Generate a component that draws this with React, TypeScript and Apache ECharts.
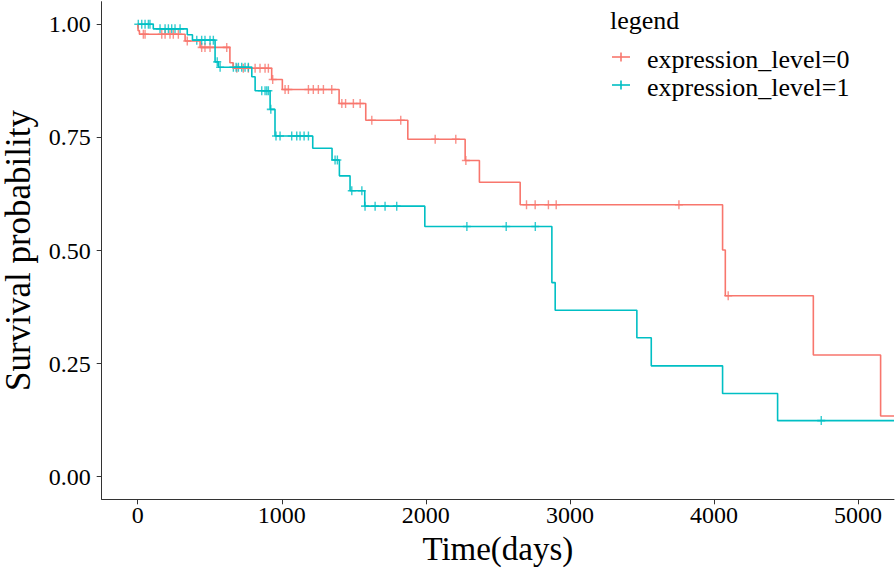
import React, { useEffect, useRef } from "react";
import * as echarts from "echarts";

// ---- Data ----
const xTickValues = [0, 1000, 2000, 3000, 4000, 5000];
const yTickValues = [0, 0.25, 0.5, 0.75, 1.0];
const followUpEnd = 5250;

const seriesNames = ["expression_level=0", "expression_level=1"];
const seriesColors = ["#F8766D", "#00BFC4"];

// expression_level=0 : step times and survival after each step
const level0StepTimes = [0, 3, 12, 329, 433, 640, 662, 930, 1004, 1398, 1583, 1875, 2273, 2372, 2655, 4060, 4079, 4690, 5157];
const level0StepSurv = [1.0, 0.986, 0.978, 0.963, 0.949, 0.915, 0.903, 0.878, 0.856, 0.825, 0.788, 0.746, 0.699, 0.651, 0.601, 0.501, 0.4, 0.269, 0.134];
const level0CensorTimes = [39, 51, 167, 190, 224, 247, 282, 344, 444, 467, 502, 618, 688, 733, 768, 815, 849, 884, 907, 937, 1023, 1046, 1185, 1219, 1254, 1289, 1347, 1417, 1443, 1497, 1544, 1625, 1826, 2065, 2208, 2278, 2699, 2759, 2851, 2905, 3757, 4099];

// expression_level=1
const level1StepTimes = [0, 108, 344, 380, 537, 560, 792, 815, 919, 953, 1215, 1349, 1400, 1474, 1576, 1993, 2875, 2898, 3465, 3565, 4060, 4442];
const level1StepSurv = [1.0, 0.99, 0.977, 0.965, 0.917, 0.905, 0.884, 0.853, 0.812, 0.753, 0.726, 0.7, 0.665, 0.632, 0.598, 0.553, 0.429, 0.368, 0.307, 0.245, 0.184, 0.124];
const level1CensorTimes = [4, 28, 51, 74, 85, 155, 190, 213, 236, 259, 294, 410, 444, 467, 502, 525, 552, 572, 664, 683, 699, 722, 745, 768, 861, 884, 896, 907, 924, 960, 988, 1069, 1104, 1127, 1155, 1185, 1370, 1386, 1486, 1556, 1578, 1648, 1717, 1798, 2285, 2558, 2760, 4745];

// ---- helpers ----
function survAt(times: number[], surv: number[], t: number): number {
  let s = surv[0];
  for (let i = 0; i < times.length; i++) {
    if (times[i] <= t) s = surv[i];
    else break;
  }
  return s;
}

function stepData(times: number[], surv: number[]) {
  const d = times.map((t, i) => [t, surv[i]]);
  d.push([followUpEnd, surv[surv.length - 1]]);
  return d;
}

function censorData(times: number[], surv: number[], censors: number[]) {
  return censors.map((t) => [t, survAt(times, surv, t)]);
}

const FONT = "Liberation Serif";
const PLUS = "path://M5,0V10M0,5H10";

export default function App() {
  const ref = useRef<HTMLDivElement>(null);

  useEffect(() => {
    document.body.style.margin = "0";
    const styleEl = document.createElement("style");
    styleEl.textContent = '#km-chart svg text { font-family: "Liberation Serif", "Times New Roman", serif !important; }';
    document.head.appendChild(styleEl);

    const chart = echarts.init(ref.current!, null, { renderer: "svg" });

    const groups = [
      { times: level0StepTimes, surv: level0StepSurv, censors: level0CensorTimes },
      { times: level1StepTimes, surv: level1StepSurv, censors: level1CensorTimes },
    ];

    const series: any[] = [];
    groups.forEach((g, i) => {
      series.push({
        type: "line",
        name: seriesNames[i] + " curve",
        step: "end",
        data: stepData(g.times, g.surv),
        showSymbol: false,
        symbol: "none",
        lineStyle: { color: seriesColors[i], width: 1.6 },
        itemStyle: { color: seriesColors[i] },
        silent: true,
        clip: true,
      });
    });
    groups.forEach((g, i) => {
      series.push({
        type: "scatter",
        name: seriesNames[i],
        data: censorData(g.times, g.surv, g.censors),
        symbol: PLUS,
        symbolSize: [8, 9],
        itemStyle: { color: "rgba(0,0,0,0)", borderColor: seriesColors[i], borderWidth: 1.5 },
        silent: true,
      });
    });

    const legendX = 612;
    const legendItems: any[] = [];
    seriesNames.forEach((n, i) => {
      const cy = 57 + i * 28;
      legendItems.push(
        { type: "line", shape: { x1: legendX, y1: cy, x2: legendX + 18, y2: cy }, style: { stroke: seriesColors[i], lineWidth: 1.6 } },
        { type: "line", shape: { x1: legendX + 9, y1: cy - 4.5, x2: legendX + 9, y2: cy + 4.5 }, style: { stroke: seriesColors[i], lineWidth: 1.6 } },
        { type: "text", x: 647, y: cy + 2, style: { text: n, fontSize: 26, fontFamily: FONT, fill: "#000", verticalAlign: "middle", align: "left" } }
      );
    });

    chart.setOption({
      animation: false,
      backgroundColor: "#fff",
      textStyle: { fontFamily: FONT },
      grid: { left: 101.7, right: 2, top: 1.7, bottom: 72.7, containLabel: false, outerBoundsMode: "none" },
      xAxis: {
        type: "value",
        min: -250,
        max: 5250,
        name: "Time(days)",
        nameLocation: "middle",
        nameGap: 30,
        nameTextStyle: { fontSize: 33, fontFamily: FONT, color: "#000" },
        axisLine: { onZero: false, lineStyle: { color: "#333", width: 1 } },
        axisTick: { show: true, customValues: xTickValues, length: 5, lineStyle: { color: "#333" } },
        axisLabel: {
          customValues: xTickValues,
          fontSize: 24,
          fontFamily: FONT,
          color: "#000",
          margin: 4,
          formatter: (v: number) => String(v),
        },
        splitLine: { show: false },
      },
      yAxis: {
        type: "value",
        min: -0.05,
        max: 1.05,
        name: "Survival probability",
        nameLocation: "middle",
        nameGap: 66,
        nameTextStyle: { fontSize: 35, fontFamily: FONT, color: "#000" },
        axisLine: { show: true, onZero: false, lineStyle: { color: "#333", width: 1 } },
        axisTick: { show: true, customValues: yTickValues, length: 5, lineStyle: { color: "#333" } },
        axisLabel: {
          customValues: yTickValues,
          fontSize: 24,
          fontFamily: FONT,
          color: "#000",
          margin: 11,
          formatter: (v: number) => v.toFixed(2),
        },
        splitLine: { show: false },
      },
      graphic: [
        { type: "text", x: 610, y: 20, style: { text: "legend", fontSize: 26, fontFamily: FONT, fill: "#000", verticalAlign: "middle", align: "left" } },
        ...legendItems,
      ],
      series,
    });

    return () => {
      chart.dispose();
      styleEl.remove();
    };
  }, []);

  return <div id="km-chart" ref={ref} style={{ width: 896, height: 572 }} />;
}
